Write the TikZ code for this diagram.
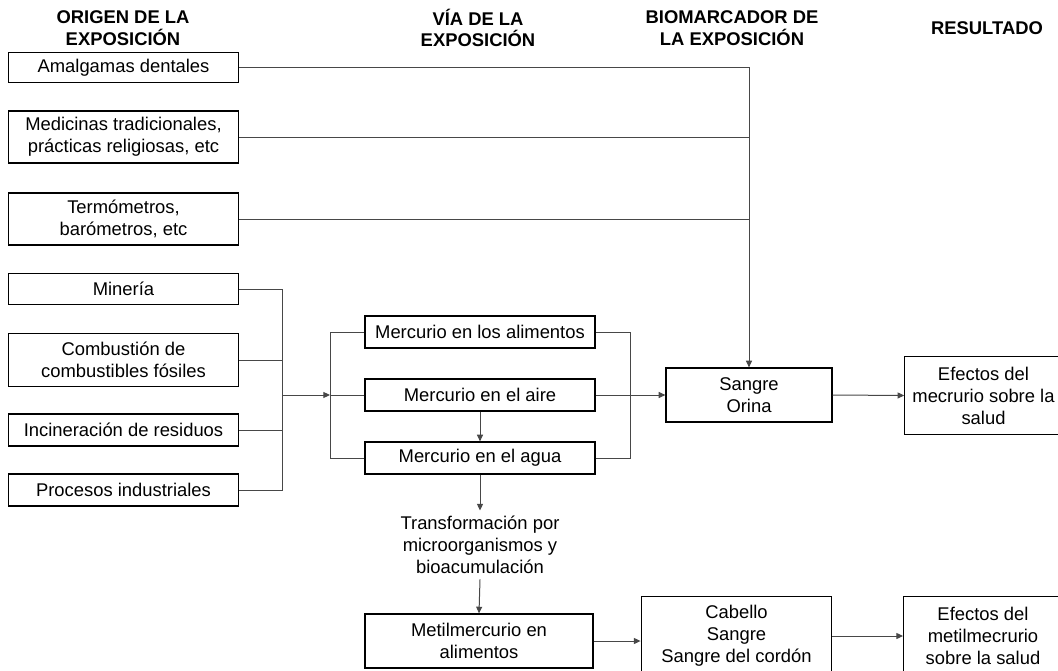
\documentclass[tikz,border=0pt]{standalone}
\usepackage{fontspec}
\setmainfont{Liberation Sans}
\usetikzlibrary{arrows.meta}
\newcommand{\link}[2]{
  \draw [line] (#1) to (#2)
}
\newcommand{\flow}[2]{
  \draw [line,-{Triangle[length=5pt,width=4.5pt]}] (#1) to (#2)
}
\tikzset{
  txt/.style={align=center,inner sep=0pt,font=\fontsize{13.8}{16.5}\selectfont},
  head/.style={txt,font=\fontsize{13.8}{16}\selectfont\bfseries},
  box/.style={txt,draw=black,line width=0.9pt},
  srcbox/.style={box,minimum width=173pt},
  viabox/.style={box,minimum width=172.5pt,minimum height=24pt},
  line/.style={draw=black!72,line width=0.75pt}
}

\begin{document}
\begin{tikzpicture}[x=0.75pt,y=-0.75pt]
\useasboundingbox (0,0) rectangle (1058,671);

% headers
\node [head] (H1) at ( 123, 28) {ORIGEN DE LA\\EXPOSICIÓN};
\node [head] (H2) at ( 478, 28) {VÍA DE LA\\EXPOSICIÓN};
\node [head] (H3) at ( 732, 28) {BIOMARCADOR DE\\LA EXPOSICIÓN};
\node [head] (H4) at ( 987, 28) {RESULTADO};

% origin of exposure
\node [srcbox,minimum height=22pt] (S1) at (123.5, 67.5) {Amalgamas dentales};
\node [srcbox,minimum height=39pt] (S2) at (123.5,137  ) {Medicinas tradicionales,\\prácticas religiosas, etc};
\node [srcbox,minimum height=39pt] (S3) at (123.5,219  ) {Termómetros,\\barómetros, etc};
\node [srcbox,minimum height=23pt] (S4) at (123.5,289  ) {Minería};
\node [srcbox,minimum height=40pt] (S5) at (123.5,360  ) {Combustión de\\combustibles fósiles};
\node [srcbox,minimum height=24pt] (S6) at (123.5,430  ) {Incineración de residuos};
\node [srcbox,minimum height=24pt] (S7) at (123.5,490  ) {Procesos industriales};

% route of exposure
\node [viabox] (V1) at (480,332) {Mercurio en los alimentos};
\node [viabox] (V2) at (480,395) {Mercurio en el aire};
\node [viabox] (V3) at (480,458) {Mercurio en el agua};
\node [txt,inner sep=4pt] (T1) at (480,545) {Transformación por\\microorganismos y\\bioacumulación};
\node [box,minimum width=171pt,minimum height=40.5pt] (V4) at (479,641) {Metilmercurio en\\alimentos};

% biomarkers
\node [box,minimum width=124.5pt,minimum height=40.5pt] (B1) at (749,395) {Sangre\\Orina};
\node [box,minimum width=143pt,minimum height=59pt] (B2) at (736.5,636) {Cabello\\Sangre\\Sangre del cordón};

% outcomes
\node [box,minimum width=118pt,minimum height=58pt] (R1) at (983.5,395.5) {Efectos del\\mecrurio sobre la\\salud};
\node [box,minimum width=119pt,minimum height=59pt] (R2) at (983,636) {Efectos del\\metilmecrurio\\sobre la salud};

% junctions
\coordinate (J1) at (282,395);
\coordinate (J2) at (330,395);
\coordinate (J3) at (630,395);

% direct sources to blood
\draw [line,-{Triangle[length=5pt,width=4.5pt]}] (S1.east) -| (B1.north);
\link {S2.east} {S2.east -| B1.north};
\link {S3.east} {S3.east -| B1.north};

% environmental sources
\draw [line] (S4.east) -| (J1);
\draw [line] (S5.east) -| (J1);
\draw [line] (S6.east) -| (J1);
\draw [line] (S7.east) -| (J1);
\flow {J1} {J2};

% routes
\draw [line] (V1.west) -| (J2);
\draw [line] (V3.west) -| (J2);
\link {V2.west} {J2};
\draw [line] (V1.east) -| (J3);
\draw [line] (V3.east) -| (J3);
\flow {V2.south} {V3.north};
\flow {V2.east} {B1.west};

% methylmercury chain
\flow {V3.south} {T1.north};
\flow {T1.south} {V4.north};
\flow {V4.east} {V4.east -| B2.west};
\flow {B2.east} {R2.west};

% mercury outcome
\flow {B1.east} {R1.west};

\end{tikzpicture}
\end{document}
